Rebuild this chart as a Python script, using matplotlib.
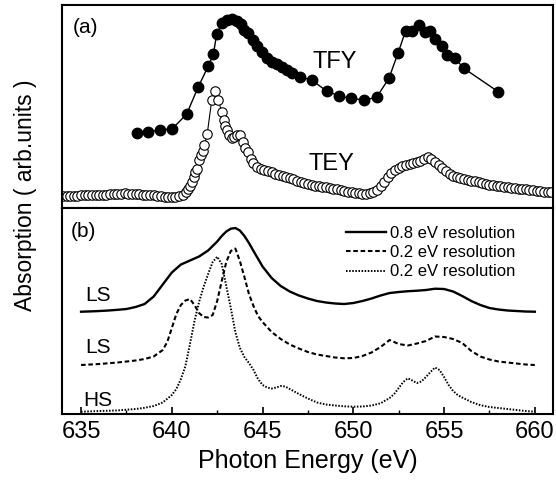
import numpy as np
import matplotlib
matplotlib.use("Agg")
import matplotlib.pyplot as plt
from matplotlib.ticker import MultipleLocator

plt.rcParams['font.family'] = ['Liberation Sans', 'DejaVu Sans']

# ---- (a) measured spectra ----
tfy_e = [638.07, 638.71, 639.35, 640.03, 640.82, 641.46, 642.01, 642.29, 642.47, 642.75,
         643.02, 643.30, 643.57, 643.79, 643.99, 644.21, 644.45, 644.68, 644.95, 645.23,
         645.50, 645.78, 646.05, 646.33, 646.60, 647.06, 647.70, 648.53, 649.22, 649.85,
         650.58, 651.28, 651.96, 652.47, 652.88, 653.21, 653.63, 653.94, 654.22, 654.49,
         654.86, 655.17, 655.60, 656.09, 657.98]
tfy_y = [75.3, 76.3, 78.0, 79.3, 94.0, 121.3, 142.0, 153.7, 173.7, 184.7,
         188.0, 188.7, 187.3, 184.0, 178.0, 174.7, 168.0, 162.0, 156.3, 149.7,
         146.3, 144.0, 141.3, 138.0, 135.3, 131.3, 128.0, 117.0, 112.0, 109.7,
         108.0, 110.7, 129.7, 155.3, 177.3, 177.3, 183.0, 176.3, 177.3, 168.7,
         162.0, 153.0, 149.7, 139.7, 116.3]

# TEY: pre-edge part (0.2 eV steps from 634.0)
tey_pre = [12.0, 12.3, 12.1, 12.5, 12.4, 12.8, 12.6, 12.9, 13.1, 12.8,
           13.2, 13.5, 13.3, 13.8, 14.0, 13.7, 14.3, 14.6, 14.4, 14.1,
           14.3, 13.8, 13.5, 13.2, 13.0, 12.6, 12.3, 11.9, 11.5, 11.0,
           10.8, 11.0, 11.6, 13.0, 16.5]
# TEY: edge region
tey_edge_e = [640.9, 641.0, 641.1, 641.2, 641.3, 641.4, 641.5, 641.6, 641.7, 641.8,
              641.95, 642.2, 642.38, 642.56, 642.75, 642.85, 642.95, 643.05, 643.15, 643.3,
              643.45, 643.6, 643.75, 643.9, 644.05, 644.2, 644.35, 644.5, 644.7, 644.9]
tey_edge = [19.0, 22.0, 26.0, 31.0, 36.0, 39.0, 48.0, 53.0, 57.0, 63.0,
            74.0, 108.0, 117.3, 108.0, 96.0, 88.0, 82.0, 78.0, 73.0, 70.0,
            71.0, 73.0, 73.0, 66.0, 60.0, 56.0, 49.0, 45.0, 41.0, 39.5]
# TEY: post-edge part (0.2 eV steps from 645.1)
tey_post = [38.5, 37.0, 36.0, 34.5, 33.5, 32.5, 31.0, 30.0, 29.0, 27.5,
            26.5, 25.0, 24.0, 23.5, 22.5, 22.0, 21.5, 21.0, 20.0, 19.5,
            19.0, 18.0, 17.0, 16.5, 16.0, 15.5, 15.0, 14.5, 14.5, 15.5,
            16.5, 18.5, 22.0, 26.0, 31.0, 35.5, 38.5, 40.5, 42.0, 43.5,
            44.5, 45.0, 46.0, 47.0, 49.5, 51.0, 49.0, 46.0, 43.5, 40.0,
            37.0, 34.5, 32.5, 31.0, 30.0, 29.0, 28.5, 27.5, 27.0, 26.0,
            25.0, 24.5, 23.5, 23.0, 22.5, 22.0, 21.5, 21.0, 20.5, 20.0,
            19.5, 19.5, 19.0, 18.5, 18.0, 17.5, 17.0, 16.5, 16.5, 16.0]

# ---- (b) calculated spectra ----
ls08_e = [635.0, 635.5, 636.0, 636.5, 637.0, 637.5, 638.0, 638.5, 639.0, 639.5,
          640.0, 640.5, 641.0, 641.5, 642.0, 642.5, 642.75, 643.0, 643.25, 643.5,
          643.75, 644.0, 644.25, 644.5, 645.0, 645.5, 646.0, 646.5, 647.0, 647.5,
          648.0, 648.5, 649.0, 649.5, 650.0, 650.5, 651.0, 651.5, 652.0, 652.5,
          653.0, 653.5, 654.0, 654.5, 655.0, 655.5, 656.0, 656.5, 657.0, 657.5,
          658.0, 658.5, 659.0, 659.5, 660.0]
ls08_y = [102.3, 102.6, 103.0, 103.5, 104.2, 105.0, 107.0, 110.0, 117.5, 129.5,
          141.5, 149.5, 153.5, 157.5, 163.5, 172.5, 178.0, 182.5, 185.3, 186.0,
          183.5, 178.0, 171.0, 163.0, 147.5, 136.0, 128.0, 122.5, 118.5, 115.5,
          113.0, 111.5, 110.5, 110.0, 111.0, 113.0, 115.5, 118.5, 121.0, 122.0,
          122.8, 123.3, 124.0, 125.3, 125.0, 122.5, 118.0, 113.0, 109.0, 106.0,
          104.5, 103.5, 103.0, 102.5, 102.3]

ls02_e = [635.0, 636.0, 637.0, 638.0, 638.5, 639.0, 639.5, 639.75, 640.0, 640.25,
          640.5, 640.75, 641.0, 641.25, 641.5, 641.75, 642.0, 642.25, 642.5, 642.75,
          643.0, 643.25, 643.5, 643.75, 644.0, 644.25, 644.5, 644.75, 645.0, 645.5,
          646.0, 646.5, 647.0, 647.5, 648.0, 648.5, 649.0, 649.5, 650.0, 650.5,
          651.0, 651.5, 652.0, 652.5, 653.0, 653.5, 654.0, 654.5, 655.0, 655.5,
          656.0, 656.5, 657.0, 657.5, 658.0, 658.5, 659.0, 659.5, 660.0]
ls02_y = [49.0, 50.0, 51.5, 53.5, 55.0, 57.5, 64.0, 72.0, 86.0, 100.0,
          109.0, 113.5, 115.0, 109.0, 101.0, 97.0, 96.5, 99.0, 113.0, 133.0,
          152.0, 163.0, 165.5, 153.0, 137.0, 120.0, 108.0, 98.0, 92.0, 82.0,
          75.0, 69.5, 65.5, 62.0, 59.5, 58.0, 56.5, 55.7, 56.0, 58.0,
          61.5, 67.0, 74.0, 70.0, 68.5, 70.5, 73.0, 77.5, 77.0, 75.0,
          71.0, 63.0, 57.5, 54.5, 52.5, 51.5, 50.5, 49.5, 49.0]

hs02_e = [635.0, 636.0, 637.0, 638.0, 638.5, 639.0, 639.5, 640.0, 640.25, 640.5,
          640.75, 641.0, 641.25, 641.5, 641.75, 642.0, 642.25, 642.5, 642.75, 643.0,
          643.25, 643.5, 643.75, 644.0, 644.25, 644.5, 644.75, 645.0, 645.25, 645.5,
          645.75, 646.0, 646.25, 646.5, 647.0, 647.5, 648.0, 648.5, 649.0, 649.5,
          650.0, 650.5, 651.0, 651.5, 652.0, 652.25, 652.5, 652.75, 653.0, 653.25,
          653.5, 653.75, 654.0, 654.25, 654.5, 654.75, 655.0, 655.25, 655.5, 655.75,
          656.0, 656.5, 657.0, 657.5, 658.0, 658.5, 659.0, 659.5, 660.0]
hs02_y = [2.3, 3.0, 3.6, 5.0, 6.2, 8.0, 11.5, 19.0, 25.0, 35.0,
          48.0, 70.0, 93.0, 112.0, 127.0, 140.0, 152.0, 157.3, 150.0, 128.0,
          106.0, 82.0, 66.0, 57.0, 51.0, 44.0, 35.0, 29.0, 26.5, 25.5,
          26.5, 28.0, 27.5, 25.0, 20.0, 15.5, 11.5, 9.5, 8.5, 7.7,
          7.3, 7.5, 8.5, 10.7, 16.0, 20.0, 26.0, 32.0, 35.7, 33.5,
          31.0, 32.5, 37.0, 42.0, 46.5, 44.0, 37.0, 29.0, 23.0, 19.0,
          16.5, 12.0, 8.8, 7.0, 6.0, 5.0, 4.0, 3.0, 2.3]

legend_labels = ['0.8 eV resolution', '0.2 eV resolution', '0.2 eV resolution']

tey_e = np.concatenate([634.0 + 0.2 * np.arange(len(tey_pre)),
                        tey_edge_e,
                        645.1 + 0.2 * np.arange(len(tey_post))])
tey_y = np.concatenate([tey_pre, tey_edge, tey_post])

fig = plt.figure(figsize=(5.56, 4.84), dpi=100)
ax1 = fig.add_axes([0.1115, 0.5702, 0.8831, 0.4194])
ax2 = fig.add_axes([0.1115, 0.1446, 0.8831, 0.4256], sharex=ax1)

ax1.plot(tfy_e, tfy_y, '-', color='black', lw=1.0,
         marker='o', ms=7.5, mfc='black', mec='black')
ax1.plot(tey_e, tey_y, '-', color='black', lw=0.8,
         marker='o', ms=6.8, mfc='white', mec='black', mew=0.8)
ax1.set_ylim(0, 203)
ax1.text(0.047, 0.887, '(a)', transform=ax1.transAxes, fontsize=15, ha='center', va='center')
ax1.text(0.556, 0.72, 'TFY', transform=ax1.transAxes, fontsize=17, ha='center', va='center')
ax1.text(0.548, 0.216, 'TEY', transform=ax1.transAxes, fontsize=17, ha='center', va='center')
ax1.tick_params(which='both', bottom=False, left=False, labelbottom=False, labelleft=False)

ax2.plot(ls08_e, ls08_y, '-', color='black', lw=1.7, label=legend_labels[0])
ax2.plot(ls02_e, ls02_y, color='black', lw=1.5, ls=(0, (2.2, 1.3)), label=legend_labels[1])
ax2.plot(hs02_e, hs02_y, color='black', lw=1.4, ls=(0, (0.8, 0.8)), label=legend_labels[2])
ax2.set_ylim(0, 206)
ax2.set_xlim(633.95, 661.0)
ax2.xaxis.set_major_locator(MultipleLocator(5))
ax2.xaxis.set_minor_locator(MultipleLocator(2.5))
ax2.tick_params(axis='x', which='major', direction='in', length=5, width=1.2,
                labelsize=17, pad=5)
ax2.tick_params(axis='x', which='minor', direction='in', length=3, width=1.0)
ax2.tick_params(axis='y', left=False, labelleft=False)
ax2.set_xlabel('Photon Energy (eV)', fontsize=18, labelpad=4)

ax2.text(0.043, 0.888, '(b)', transform=ax2.transAxes, fontsize=15, ha='center', va='center')
ax2.text(0.073, 0.576, 'LS', transform=ax2.transAxes, fontsize=15, ha='center', va='center')
ax2.text(0.073, 0.322, 'LS', transform=ax2.transAxes, fontsize=15, ha='center', va='center')
ax2.text(0.073, 0.068, 'HS', transform=ax2.transAxes, fontsize=15, ha='center', va='center')

ax2.legend(loc='upper right', bbox_to_anchor=(0.95, 0.977), frameon=False, fontsize=12,
           handlelength=2.4, handletextpad=0.2, labelspacing=0.25, borderpad=0.3)

for ax in (ax1, ax2):
    for s in ax.spines.values():
        s.set_linewidth(1.5)

fig.text(0.045, 0.596, 'Absorption ( arb.units )', rotation=90, fontsize=16.5,
         ha='center', va='center')

fig.savefig('out.png', dpi=100)
